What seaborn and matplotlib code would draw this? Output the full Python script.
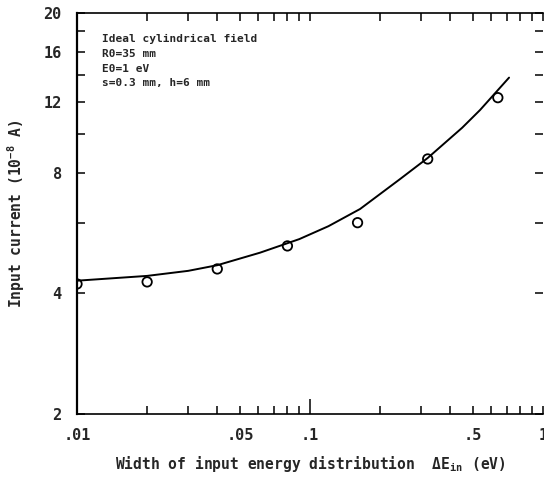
import matplotlib
matplotlib.use("Agg")
import matplotlib.pyplot as plt
import matplotlib.ticker as mticker
import seaborn as sns
import pandas as pd

# ---- data ----
point_x = [0.01, 0.02, 0.04, 0.08, 0.16, 0.32, 0.64]
point_y = [4.22, 4.27, 4.6, 5.25, 6.0, 8.65, 12.3]

curve_x = [0.01, 0.02, 0.03, 0.04, 0.061, 0.09, 0.12, 0.164, 0.243, 0.32, 0.45, 0.537, 0.715]
curve_y = [4.30, 4.42, 4.55, 4.70, 5.05, 5.46, 5.88, 6.49, 7.7, 8.7, 10.35, 11.46, 13.8]

x_ticks = [0.01, 0.05, 0.1, 0.5, 1]
x_tick_labels = [".01", ".05", ".1", ".5", "1"]
x_minor = [0.02, 0.03, 0.04, 0.06, 0.07, 0.08, 0.09, 0.2, 0.3, 0.4, 0.6, 0.7, 0.8, 0.9]
y_ticks = [2, 4, 8, 12, 16, 20]
y_tick_labels = ["2", "4", "8", "12", "16", "20"]
y_minor = [6, 10, 14, 18]

notes = ["Ideal cylindrical field", "R0=35 mm", "E0=1 eV", "s=0.3 mm, h=6 mm"]

sns.set_style("ticks")
plt.rcParams["font.family"] = ["DejaVu Sans Mono", "DejaVu Sans"]
plt.rcParams["font.weight"] = "bold"
plt.rcParams["mathtext.default"] = "regular"

fig = plt.figure(figsize=(5.44, 4.84), dpi=100)
W, H = 544, 484
ax = fig.add_axes([77 / W, 1 - 414 / H, 466 / W, 401 / H])

df_pts = pd.DataFrame({"x": point_x, "y": point_y})
df_curve = pd.DataFrame({"x": curve_x, "y": curve_y})

sns.lineplot(data=df_curve, x="x", y="y", ax=ax, color="black", lw=1.4,
             sort=False, estimator=None)
sns.scatterplot(data=df_pts, x="x", y="y", ax=ax, marker="o", s=46,
                facecolors="none", edgecolors="black", linewidth=1.3, zorder=3)

ax.set_xscale("log")
ax.set_yscale("log")
ax.set_xlim(0.01, 1)
ax.set_ylim(2, 20)

ax.xaxis.set_major_locator(mticker.FixedLocator(x_ticks))
ax.xaxis.set_major_formatter(mticker.FixedFormatter(x_tick_labels))
ax.xaxis.set_minor_locator(mticker.FixedLocator(x_minor))
ax.xaxis.set_minor_formatter(mticker.NullFormatter())
ax.yaxis.set_major_locator(mticker.FixedLocator(y_ticks))
ax.yaxis.set_major_formatter(mticker.FixedFormatter(y_tick_labels))
ax.yaxis.set_minor_locator(mticker.FixedLocator(y_minor))
ax.yaxis.set_minor_formatter(mticker.NullFormatter())

ax.tick_params(axis="x", which="both", direction="in", top=True, bottom=True,
               length=5.5, width=1.1, color="black", pad=10, labelsize=11)
ax.tick_params(axis="y", which="both", direction="in", left=True, right=True,
               length=6, width=1.1, color="black", pad=11, labelsize=11)

# longer ticks at 0.1 (x) and 10 (y)
for t in ax.xaxis.get_major_ticks():
    if abs(t.get_loc() - 0.1) < 1e-9:
        t.tick1line.set_markersize(11)
for t in ax.yaxis.get_minor_ticks():
    if abs(t.get_loc() - 10) < 1e-9:
        t.tick1line.set_markersize(13)
        t.tick2line.set_markersize(10)

for side in ["left", "bottom", "top"]:
    ax.spines[side].set_color("black")
ax.spines["left"].set_linewidth(1.6)
ax.spines["bottom"].set_linewidth(1.2)
ax.spines["top"].set_linewidth(1.2)
ax.spines["right"].set_visible(False)

for lbl in ax.get_xticklabels() + ax.get_yticklabels():
    lbl.set_fontweight("bold")

ax.set_xlabel("Width of input energy distribution  \u0394E$_{in}$ (eV)",
              fontsize=10.5, fontweight="bold", labelpad=8)
ax.set_ylabel("Input current (10$^{-8}$ A)", fontsize=10.5,
              fontweight="bold", labelpad=12)

note_y = [39, 54, 69, 83]
for txt, py in zip(notes, note_y):
    ax.text((102 - 77) / 466, (414 - py) / 401, txt, transform=ax.transAxes,
            fontsize=8, fontweight="bold", ha="left", va="center")

fig.savefig("out.png", dpi=100)
